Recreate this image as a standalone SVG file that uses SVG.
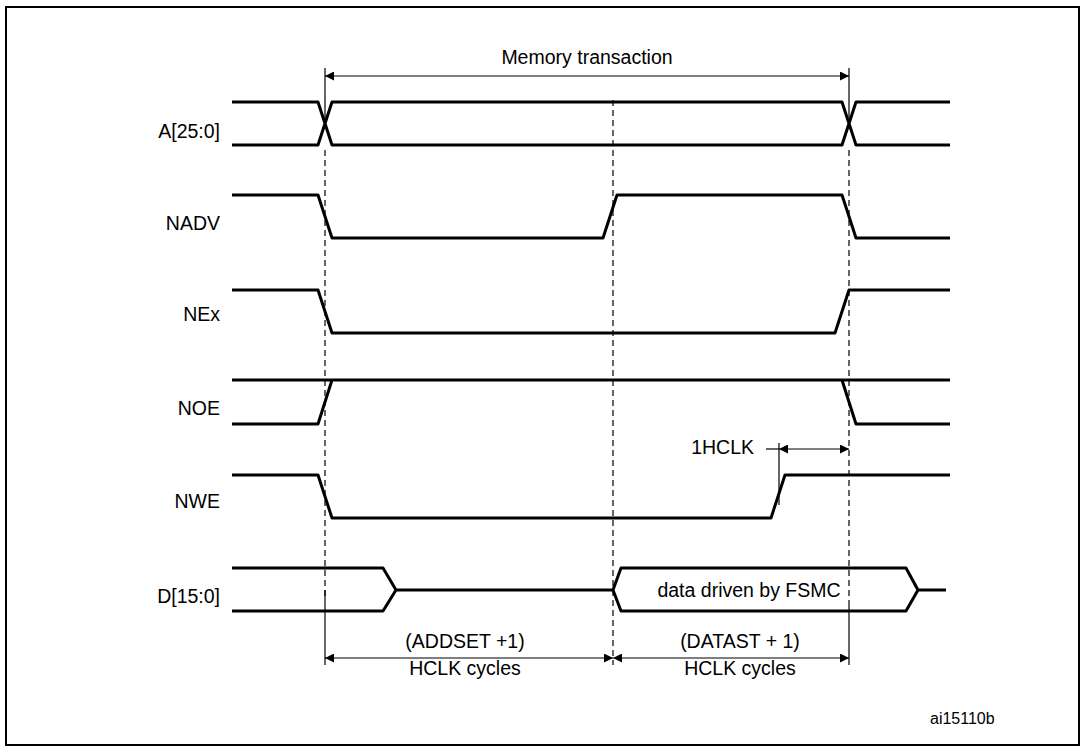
<svg xmlns="http://www.w3.org/2000/svg" width="1085" height="748" viewBox="0 0 1085 748">
<style>
text{font-family:"Liberation Sans",Arial,sans-serif;font-size:19.5px;fill:#000}
.lbl{text-anchor:end}
.c{text-anchor:middle}
.sig{fill:none;stroke:#000;stroke-width:3;stroke-linejoin:round}
.dash{stroke:#000;stroke-width:1.2;stroke-dasharray:6,4;fill:none}
.dim{stroke:#000;stroke-width:1.2;fill:none}
</style>
<defs>
<marker id="ah" viewBox="0 0 10 10" refX="10" refY="5" markerWidth="14" markerHeight="9" markerUnits="userSpaceOnUse" orient="auto-start-reverse"><path d="M0,0L10,5L0,10z" fill="#000"/></marker>
</defs>
<rect x="6" y="7" width="1073" height="738" fill="#fff" stroke="#000" stroke-width="2"/>
<g id="labels">
<text class="lbl" x="220" y="138">A[25:0]</text>
<text class="lbl" x="220" y="230">NADV</text>
<text class="lbl" x="220" y="321">NEx</text>
<text class="lbl" x="220" y="415">NOE</text>
<text class="lbl" x="220" y="508">NWE</text>
<text class="lbl" x="220" y="603">D[15:0]</text>
</g>
<g id="connectors">
<line class="dash" x1="325" y1="150" x2="325" y2="600"/>
<line class="dash" x1="613" y1="100" x2="613" y2="665"/>
<line class="dash" x1="849" y1="150" x2="849" y2="600"/>
<line class="dim" x1="325" y1="68" x2="325" y2="118"/>
<line class="dim" x1="849" y1="68" x2="849" y2="118"/>
<line class="dim" x1="325" y1="76" x2="849" y2="76" marker-start="url(#ah)" marker-end="url(#ah)"/>
<line class="dim" x1="325" y1="590" x2="325" y2="665"/>
<line class="dim" x1="849" y1="600" x2="849" y2="665"/>
<line class="dim" x1="325" y1="658" x2="613" y2="658" marker-start="url(#ah)" marker-end="url(#ah)"/>
<line class="dim" x1="613" y1="658" x2="849" y2="658" marker-start="url(#ah)" marker-end="url(#ah)"/>
<line class="dim" x1="779" y1="443" x2="779" y2="505"/>
<line class="dim" x1="766" y1="449" x2="779" y2="449"/>
<line class="dim" x1="779" y1="449" x2="849" y2="449" marker-start="url(#ah)" marker-end="url(#ah)"/>
</g>
<g id="A"><path class="sig" d="M232,102H318L332,145H842L856,102H950M232,145H318L332,102H842L856,145H950"/></g>
<g id="NADV"><path class="sig" d="M232,195H318L332,238H603L617,195H842L856,238H950"/></g>
<g id="NEx"><path class="sig" d="M232,290H318L332,333H835L849,290H950"/></g>
<g id="NOE"><path class="sig" d="M232,380H950M232,424H318L332,380M842,380L856,424H950"/></g>
<g id="NWE"><path class="sig" d="M232,475H318L332,518H771L785,475H950"/></g>
<g id="D"><path class="sig" d="M232,568H383L396,590L383,611H232M396,590H613M613,590L621,568H906L918,590L906,611H621Z M918,590H946"/></g>
<g id="texts">
<text class="c" x="587" y="64">Memory transaction</text>
<text class="lbl" x="754" y="454">1HCLK</text>
<text class="c" x="749" y="597">data driven by FSMC</text>
<text class="c" x="465" y="648">(ADDSET +1)</text>
<text class="c" x="465" y="675">HCLK cycles</text>
<text class="c" x="740" y="648">(DATAST + 1)</text>
<text class="c" x="740" y="675">HCLK cycles</text>
<text x="930" y="724" style="font-size:16px">ai15110b</text>
</g>
</svg>
